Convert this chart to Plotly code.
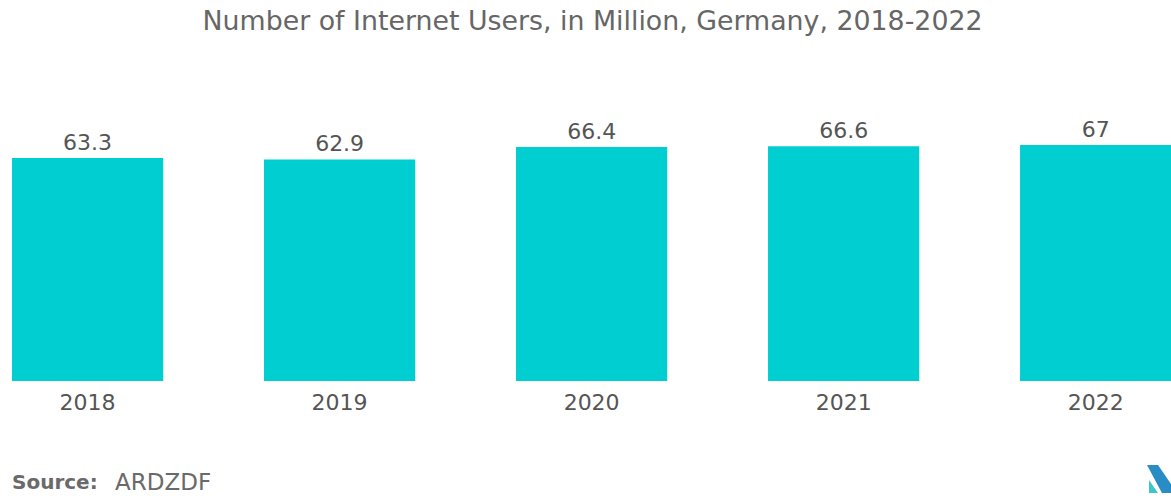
import plotly.graph_objects as go

# Internet users in Germany (millions)
years = ["2018", "2019", "2020", "2021", "2022"]
users = [63.3, 62.9, 66.4, 66.6, 67]
labels = ["63.3", "62.9", "66.4", "66.6", "67"]

BAR_COLOR = "#00CED1"
TEXT_COLOR = "#555555"
FONT = "'DejaVu Sans', sans-serif"

fig = go.Figure(
    go.Bar(
        x=years,
        y=users,
        text=labels,
        textposition="outside",
        textfont=dict(size=22, color=TEXT_COLOR, family=FONT),
        marker=dict(color=BAR_COLOR, line=dict(width=0)),
        cliponaxis=False,
        hoverinfo="skip",
    )
)

fig.update_layout(
    width=1171,
    height=496,
    margin=dict(l=12, r=0, t=100, b=115),
    paper_bgcolor="white",
    plot_bgcolor="white",
    bargap=0.4,
    showlegend=False,
    title=dict(
        text="Number of Internet Users, in Million, Germany, 2018-2022",
        x=0.506,
        xanchor="center",
        y=0.958,
        yanchor="middle",
        font=dict(size=26.8, color="#666666", family=FONT),
    ),
    xaxis=dict(
        type="category",
        range=[-0.3, 4.299],
        showgrid=False,
        showline=False,
        zeroline=False,
        ticks="",
        ticklabelstandoff=6,
        tickfont=dict(size=22, color=TEXT_COLOR, family=FONT),
    ),
    yaxis=dict(
        range=[0, 79.76],
        visible=False,
        showgrid=False,
        zeroline=False,
    ),
    annotations=[
        dict(
            text="<b>Source:</b>",
            xref="paper",
            yref="paper",
            x=0,
            xshift=-2,
            xanchor="left",
            y=-0.36,
            yanchor="middle",
            showarrow=False,
            font=dict(size=20, color="#6a6a6a", family=FONT),
        ),
        dict(
            text="ARDZDF",
            xref="paper",
            yref="paper",
            x=0.0872,
            xanchor="left",
            y=-0.36,
            yanchor="middle",
            showarrow=False,
            font=dict(size=23, color="#6a6a6a", family=FONT),
        ),
    ],
    shapes=[
        # corner logo mark
        dict(
            type="path",
            xref="paper",
            yref="paper",
            path="M 0.9793,-0.2989 L 0.9888,-0.2989 L 1.0,-0.3666 "
                 "L 1.0,-0.3986 L 0.9922,-0.3986 Z",
            fillcolor="#2a8cc4",
            line=dict(width=0),
        ),
        dict(
            type="path",
            xref="paper",
            yref="paper",
            path="M 0.9810,-0.3523 L 0.9810,-0.3986 L 0.9888,-0.3986 Z",
            fillcolor="#3cc8c8",
            line=dict(width=0),
        ),
    ],
)

fig.write_html("out.html")
